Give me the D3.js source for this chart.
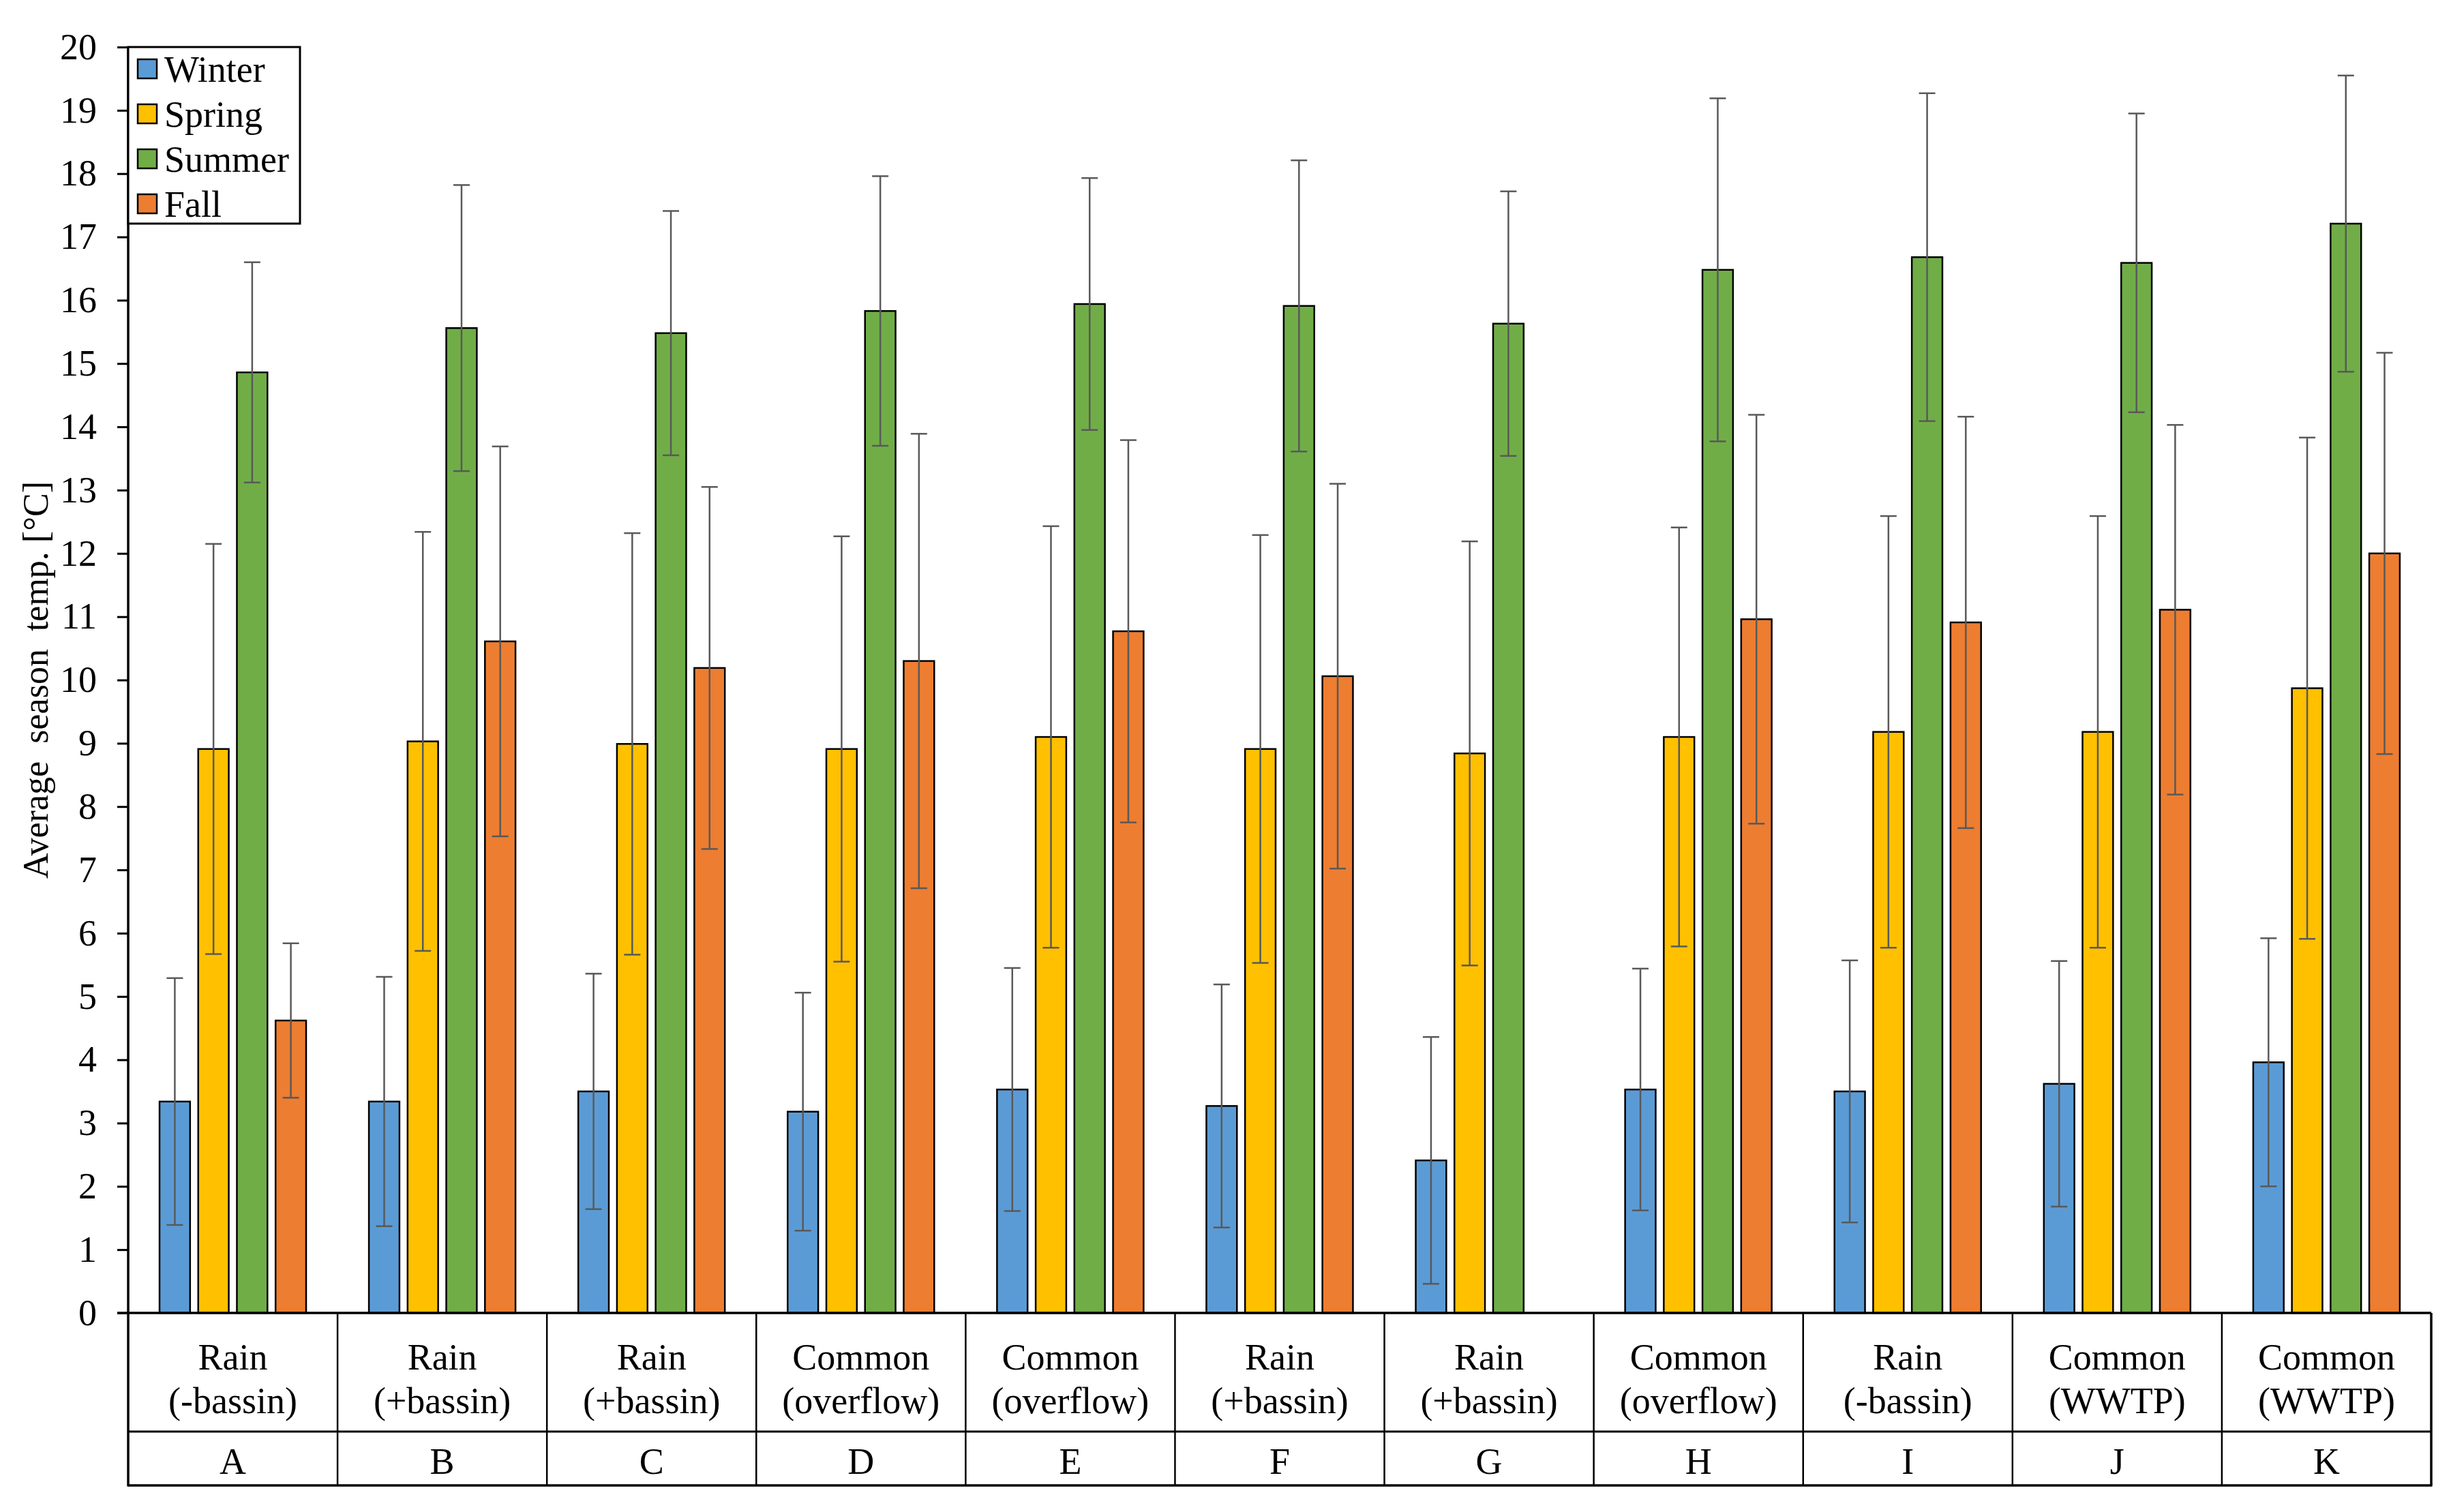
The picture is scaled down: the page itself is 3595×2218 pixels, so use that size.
<!DOCTYPE html>
<html>
<head>
<meta charset="utf-8">
<script src="https://cdn.jsdelivr.net/npm/d3@7"></script>
<style>
  body { margin: 0; background: #fff; }
  text { font-family: "Liberation Serif", "Times New Roman", serif; fill: #000; }
</style>
</head>
<body>
<div id="chart"></div>
<script>
var svgWidth = 3595;
var svgHeight = 2218;

// data
var sites = ["A", "B", "C", "D", "E", "F", "G", "H", "I", "J", "K"];
var siteType = ["Rain", "Rain", "Rain", "Common", "Common", "Rain", "Rain", "Common", "Rain", "Common", "Common"];
var siteNote = ["(-bassin)", "(+bassin)", "(+bassin)", "(overflow)", "(overflow)", "(+bassin)", "(+bassin)", "(overflow)", "(-bassin)", "(WWTP)", "(WWTP)"];
var seasons = ["Winter", "Spring", "Summer", "Fall"];
var colors = ["#5B9BD5", "#FFC000", "#70AD47", "#ED7D31"];

var winter = [3.34, 3.34, 3.50, 3.18, 3.53, 3.27, 2.41, 3.53, 3.50, 3.62, 3.96];
var spring = [8.91, 9.03, 8.99, 8.91, 9.10, 8.91, 8.84, 9.10, 9.18, 9.18, 9.87];
var summer = [14.86, 15.56, 15.48, 15.83, 15.94, 15.91, 15.63, 16.48, 16.68, 16.59, 17.21];
var fall = [4.62, 10.61, 10.19, 10.30, 10.77, 10.06, null, 10.96, 10.91, 11.11, 12.00];

var winterSd = [1.95, 1.97, 1.86, 1.88, 1.92, 1.92, 1.95, 1.91, 2.07, 1.94, 1.96];
var springSd = [3.24, 3.31, 3.33, 3.36, 3.33, 3.38, 3.35, 3.31, 3.41, 3.41, 3.96];
var summerSd = [1.74, 2.26, 1.93, 2.13, 1.99, 2.30, 2.09, 2.71, 2.59, 2.36, 2.34];
var fallSd = [1.22, 3.08, 2.86, 3.59, 3.02, 3.04, null, 3.23, 3.25, 2.92, 3.17];

var yTicks = d3.range(0, 21);

var values = [winter, spring, summer, fall];
var sds = [winterSd, springSd, summerSd, fallSd];

var rows = [];
sites.forEach(function(s, i) {
  seasons.forEach(function(se, j) {
    if (values[j][i] != null) {
      rows.push({ site: s, season: se, color: colors[j], value: values[j][i], sd: sds[j][i] });
    }
  });
});

var left = 188, right = 3566, zeroY = 1926, topY = 69;
var midRow = 2100, bottomRow = 2179;

var svg = d3.select("#chart")
  .append("svg")
  .attr("width", svgWidth)
  .attr("height", svgHeight);

var x0 = d3.scaleBand().domain(sites).range([left, right]).padding(0);
var x1 = d3.scaleBand().domain(seasons).range([46, 261]).paddingInner(0.21);
var y = d3.scaleLinear().domain([0, 20]).range([zeroY, topY]);

// bars
svg.append("g").selectAll("rect")
  .data(rows)
  .enter()
  .append("rect")
  .attr("x", d => x0(d.site) + x1(d.season))
  .attr("y", d => y(d.value))
  .attr("width", x1.bandwidth())
  .attr("height", d => y(0) - y(d.value))
  .attr("fill", d => d.color)
  .attr("stroke", "#000")
  .attr("stroke-width", 2.5);

// error bars
var capW = 24;
var err = svg.append("g").attr("stroke", "#595959").attr("stroke-width", 2.5);
rows.forEach(function(d) {
  var cx = x0(d.site) + x1(d.season) + x1.bandwidth() / 2;
  var y1 = y(d.value + d.sd), y2 = y(d.value - d.sd);
  err.append("line").attr("x1", cx).attr("x2", cx).attr("y1", y1).attr("y2", y2);
  err.append("line").attr("x1", cx - capW / 2).attr("x2", cx + capW / 2).attr("y1", y1).attr("y2", y1);
  err.append("line").attr("x1", cx - capW / 2).attr("x2", cx + capW / 2).attr("y1", y2).attr("y2", y2);
});

// y axis
var leftAxis = d3.axisLeft(y).tickValues(yTicks).tickSize(16).tickPadding(30).tickFormat(d3.format("d"));
var yAxis = svg.append("g")
  .attr("transform", "translate(" + left + ",0)")
  .call(leftAxis);
yAxis.select(".domain").remove();
yAxis.selectAll(".tick line").attr("stroke", "#000").attr("stroke-width", 3);
yAxis.selectAll(".tick text")
  .style("font-family", '"Liberation Serif", serif')
  .style("font-size", "54px")
  .attr("fill", "#000");

svg.append("text")
  .attr("transform", "translate(52," + (zeroY + topY) / 2 + ") rotate(-90)")
  .attr("text-anchor", "middle")
  .attr("dy", "0.35em")
  .style("font-size", "52px")
  .style("white-space", "pre")
  .text("Average  season  temp. [\u00B0C]");

// table under the bars
var grid = svg.append("g").attr("stroke", "#000");
grid.append("line").attr("x1", left).attr("x2", left).attr("y1", topY).attr("y2", bottomRow + 1.5).attr("stroke-width", 3.5);
grid.append("line").attr("x1", left - 16).attr("x2", right).attr("y1", zeroY).attr("y2", zeroY).attr("stroke-width", 3.5);
grid.append("line").attr("x1", left).attr("x2", right).attr("y1", midRow).attr("y2", midRow).attr("stroke-width", 3);
grid.append("line").attr("x1", left).attr("x2", right + 1.5).attr("y1", bottomRow).attr("y2", bottomRow).attr("stroke-width", 3.5);
sites.forEach(function(s) {
  var xr = x0(s) + x0.bandwidth();
  grid.append("line").attr("x1", xr).attr("x2", xr).attr("y1", zeroY).attr("y2", bottomRow)
    .attr("stroke-width", xr >= right - 1 ? 3.5 : 2.5);
});

var labels = svg.append("g").attr("text-anchor", "middle").style("font-size", "54px");
sites.forEach(function(s, i) {
  var cx = x0(s) + x0.bandwidth() / 2;
  labels.append("text").attr("x", cx).attr("y", 2009).text(siteType[i]);
  labels.append("text").attr("x", cx).attr("y", 2073).text(siteNote[i]);
  labels.append("text").attr("x", cx).attr("y", 2162).text(s);
});

// legend
var legend = svg.append("g");
legend.append("rect")
  .attr("x", left).attr("y", topY)
  .attr("width", 252).attr("height", 259)
  .attr("fill", "#fff").attr("stroke", "#000").attr("stroke-width", 3);
seasons.forEach(function(se, i) {
  var cy = 101 + i * 66;
  legend.append("rect")
    .attr("x", 202).attr("y", cy - 14)
    .attr("width", 28).attr("height", 28)
    .attr("fill", colors[i]).attr("stroke", "#000").attr("stroke-width", 2.5);
  legend.append("text")
    .attr("x", 241).attr("y", cy + 19)
    .style("font-size", "54px")
    .text(se);
});
</script>
</body>
</html>
